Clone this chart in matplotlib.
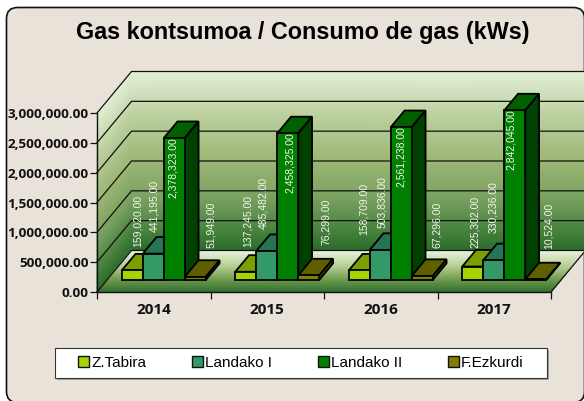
import numpy as np
import matplotlib
matplotlib.use("Agg")
import matplotlib.pyplot as plt
from matplotlib.colors import LinearSegmentedColormap
from matplotlib.patches import FancyBboxPatch, Polygon, Rectangle, Patch

years = ["2014", "2015", "2016", "2017"]
z_tabira = [159020.00, 137245.00, 158709.00, 225302.00]
landako_1 = [441195.00, 485482.00, 503836.00, 330236.00]
landako_2 = [2378323.00, 2458325.00, 2561238.00, 2842045.00]
f_ezkurdi = [51949.00, 76299.00, 67296.00, 10524.00]
series_names = ["Z.Tabira", "Landako I", "Landako II", "F.Ezkurdi"]
y_ticks = [0, 500000, 1000000, 1500000, 2000000, 2500000, 3000000]

series_values = [z_tabira, landako_1, landako_2, f_ezkurdi]
front_colors = ["#A6D400", "#339966", "#008000", "#808000"]
top_colors = ["#7C9F00", "#267355", "#006000", "#605F00"]
side_colors = ["#536A00", "#1A4D33", "#004000", "#404000"]

# Hand-placed label nudges in pixels, per series then per year
label_dx = [[5, 2, 4, 2], [1, -4, 2, -1], [-1, 2, 0, -4], [16, 17, 15, 13]]
label_dy = [[23, 25, 35, 19], [22, 22, 22, 27], [1, 1, 1, 1], [29, 30, 28, 30]]

W, H = 584, 401
fig = plt.figure(figsize=(W / 100, H / 100), dpi=100, facecolor="white")

# Page furniture in pixel coordinates
bg = fig.add_axes([0, 0, 1, 1], zorder=0)
bg.set_xlim(0, W)
bg.set_ylim(H, 0)
bg.axis("off")
bg.add_patch(FancyBboxPatch((6.5, 7.5), 578, 395, boxstyle="round,pad=0,rounding_size=11",
                            fc="#E8E2D9", ec="#111111", lw=1.2))
bg.add_patch(Rectangle((57, 350), 492, 30, fc="#A0A0A0", ec="none"))
bg.add_patch(Rectangle((55, 348), 492, 30, fc="white", ec="#333333", lw=0.8))
bg.text(303, 33, "Gas kontsumoa / Consumo de gas (kWs)", ha="center", va="center",
        family="Liberation Sans", weight="bold", fontsize=16.8, color="black")

# Chart axes: the box is the front plane of the oblique 3D plot
x0, x1, y0, y3 = 97, 551, 292, 113
ax = fig.add_axes([x0 / W, (H - y0) / H, (x1 - x0) / W, (y0 - y3) / H], zorder=1)
ax.patch.set_visible(False)
n = len(years)
ymax = y_ticks[-1]
ax.set_xlim(0, n)
ax.set_ylim(0, ymax)
px_x = n / (x1 - x0)
px_y = ymax / (y0 - y3)
DX, DY = 34.5 * px_x, 41.5 * px_y


def proj(x, v, d):
    return x + d * DX, v + d * DY


wall = LinearSegmentedColormap.from_list(
    "wall", [(0, "#2B6B2B"), (0.12, "#4A8440"), (0.3, "#7BA262"), (0.5, "#9CB673"),
             (0.75, "#BBD09E"), (1, "#E3EFD6")])
floor = LinearSegmentedColormap.from_list(
    "floor", [(0, "#2F6F2F"), (0.3, "#6F9A4E"), (0.6, "#B2CC8E"), (1, "#EAF2DE")])

# Back wall
T = np.linspace(0, 1, 40)
V = T * ymax
XX, YY = proj(np.array([[0.0, n + 1.0]] * len(T)), np.column_stack([V, V]), 1.0)
ax.pcolormesh(XX, YY, np.column_stack([T, T]), cmap=wall, shading="gouraud", clip_on=False, zorder=1)
# Left wall
D = np.array([0.0, 1.0])
XX = np.column_stack([proj(0.0, 0.0, d)[0] * np.ones_like(T) for d in D])
YY = np.column_stack([proj(0.0, V, d)[1] for d in D])
ax.pcolormesh(XX, YY, np.column_stack([T, T]), cmap=wall, shading="gouraud", clip_on=False, zorder=1)
# Floor
D = np.linspace(0, 1, 30)
XX = np.column_stack([proj(0.0, 0.0, D)[0], proj(float(n), 0.0, D)[0]])
YY = np.column_stack([proj(0.0, 0.0, D)[1], proj(float(n), 0.0, D)[1]])
ax.pcolormesh(XX, YY, np.column_stack([D, D]), cmap=floor, shading="gouraud", clip_on=False, zorder=1)

# Gridlines on the walls
for v in y_ticks:
    xs, ys = zip(proj(0, v, 0), proj(0, v, 1), proj(n + 1, v, 1))
    ax.plot(xs, ys, color="#111111", lw=0.9, clip_on=False, zorder=2)
xs, ys = zip(proj(n, 0, 0), proj(n, 0, 1))
ax.plot(xs, ys, color="#111111", lw=0.9, clip_on=False, zorder=2)

# Bars
bar_w = 21 * px_x
group_pad = (1 - 4 * bar_w) / 2
d_front, d_back = 0.29, 0.69
edge = dict(ec="black", lw=1.3, joinstyle="miter", clip_on=False, zorder=3)
for c in range(n):
    for s, vals in enumerate(series_values):
        v = vals[c]
        xl = c + group_pad + s * bar_w
        xr = xl + bar_w
        ax.add_patch(Polygon([proj(xl, v, d_front), proj(xr, v, d_front),
                              proj(xr, v, d_back), proj(xl, v, d_back)], fc=top_colors[s], **edge))
        ax.add_patch(Polygon([proj(xr, 0, d_front), proj(xr, v, d_front),
                              proj(xr, v, d_back), proj(xr, 0, d_back)], fc=side_colors[s], **edge))
        ax.add_patch(Polygon([proj(xl, 0, d_front), proj(xr, 0, d_front),
                              proj(xr, v, d_front), proj(xl, v, d_front)], fc=front_colors[s], **edge))

# Data labels
for c in range(n):
    for s, vals in enumerate(series_values):
        v = vals[c]
        xc = c + group_pad + (s + 0.5) * bar_w
        ax.annotate(f"{v:,.2f}", xy=proj(xc, v, d_front),
                    xytext=(label_dx[s][c], label_dy[s][c]), textcoords="offset pixels",
                    rotation=90, ha="center", va="top" if s == 2 else "bottom",
                    family="Liberation Sans", fontsize=7.5,
                    color="#F2F7EA", annotation_clip=False, zorder=4)

# Axes
for side in ("top", "right"):
    ax.spines[side].set_visible(False)
for side in ("left", "bottom"):
    ax.spines[side].set_linewidth(1.0)
    ax.spines[side].set_color("#111111")
    ax.spines[side].set_zorder(5)
ax.set_yticks(y_ticks)
ax.set_yticklabels([f"{v:,.2f}" for v in y_ticks], family="Open Sans", weight="bold",
                   fontsize=9.7, color="#111111")
ax.set_xticks(range(n + 1))
ax.set_xticklabels([])
ax.set_xticks(np.arange(n) + 0.5, labels=years, minor=True, family="Open Sans",
              weight="bold", fontsize=11, color="#111111")
ax.tick_params(axis="both", which="major", length=5, width=0.9, color="#111111", pad=1)
ax.tick_params(axis="x", which="minor", length=0, pad=8)

# Legend
handles = [Patch(fc=col, ec="#111111", lw=1.0) for col in front_colors]
fig.legend(handles, series_names, loc="center", bbox_to_anchor=(301 / W, (H - 363) / H),
           ncols=4, frameon=False, prop={"family": "Liberation Sans", "size": 11},
           handlelength=0.68, handleheight=0.68, handletextpad=0.15, columnspacing=3.02,
           borderpad=0, borderaxespad=0)

fig.savefig("out.png", dpi=100, facecolor="white")
